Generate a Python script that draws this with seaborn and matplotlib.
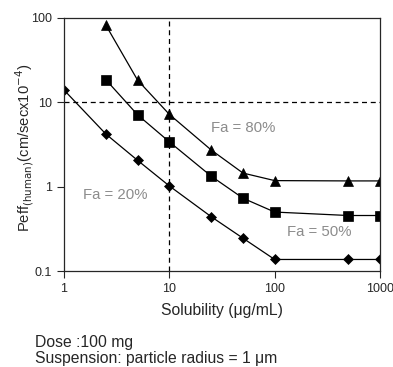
import numpy as np
import pandas as pd
import matplotlib
matplotlib.use("Agg")
import matplotlib.pyplot as plt
import seaborn as sns

solubility = [1, 2.5, 5, 10, 25, 50, 100, 500, 1000]
fa20 = [14, 4.2, 2.05, 1.02, 0.44, 0.245, 0.137, 0.137, 0.137]
fa50 = [None, 18.5, 7.1, 3.4, 1.33, 0.73, 0.50, 0.455, 0.455]
fa80 = [None, 82, 18.3, 7.2, 2.72, 1.45, 1.18, 1.17, 1.17]
series_names = ["Fa = 20%", "Fa = 50%", "Fa = 80%"]

rows = []
for name, vals in zip(series_names, [fa20, fa50, fa80]):
    for s, v in zip(solubility, vals):
        if v is not None:
            rows.append({"Solubility": s, "Peff": v, "series": name})
df = pd.DataFrame(rows)

sns.set_style("ticks")
plt.rcParams['font.family'] = ['Liberation Sans', 'DejaVu Sans']

fig = plt.figure(figsize=(3.93, 3.67), dpi=100)
ax = fig.add_axes([64/393, 1-271/367, (380-64)/393, (271-18)/367])

markers = {"Fa = 20%": "D", "Fa = 50%": "s", "Fa = 80%": "^"}
sizes_map = {"Fa = 20%": 5, "Fa = 50%": 7, "Fa = 80%": 7.5}
for name in series_names:
    sub = df[df.series == name]
    sns.lineplot(data=sub, x="Solubility", y="Peff", ax=ax, color="black",
                 marker=markers[name], markersize=sizes_map[name],
                 markeredgecolor="black", markeredgewidth=0.5,
                 linewidth=0.9, legend=False)

ax.set_xscale("log")
ax.set_yscale("log")
ax.set_xlim(1, 1000)
ax.set_ylim(0.1, 100)
ax.axvline(10, color="black", ls=(0, (4, 3)), lw=0.9, zorder=0)
ax.axhline(10, color="black", ls=(0, (4, 3)), lw=0.9, zorder=0)

ax.set_xticks([1, 10, 100, 1000])
ax.set_xticklabels(["1", "10", "100", "1000"])
ax.set_yticks([0.1, 1, 10, 100])
ax.set_yticklabels(["0.1", "1", "10", "100"])
ax.minorticks_off()
ax.tick_params(axis="both", labelsize=9, length=5, width=0.8, direction="out")
for sp in ax.spines.values():
    sp.set_linewidth(0.9)

ax.set_xlabel("Solubility (\u03bcg/mL)", fontsize=11.3, labelpad=6)
ax.set_ylabel("")
fig.text(25/393, 1-148/367, "Peff$_{\\mathrm{(human)}}$(cm/secx10$^{-4}$)",
         fontsize=10.6, rotation=90, ha="center", va="center")

gray = "#8c8c8c"
def place(x_px, y_px, txt):
    fig.text(x_px/393, 1-y_px/367, txt, fontsize=10.8, color=gray, va="center", ha="left")
place(211, 128, "Fa = 80%")
place(83, 195, "Fa = 20%")
place(287, 232, "Fa = 50%")

fig.text(35/393, 1-342/367, "Dose :100 mg", fontsize=11.3, va="center")
fig.text(35/393, 1-358/367, "Suspension: particle radius = 1 \u03bcm", fontsize=11.3, va="center")

fig.savefig("out.png", dpi=100)
